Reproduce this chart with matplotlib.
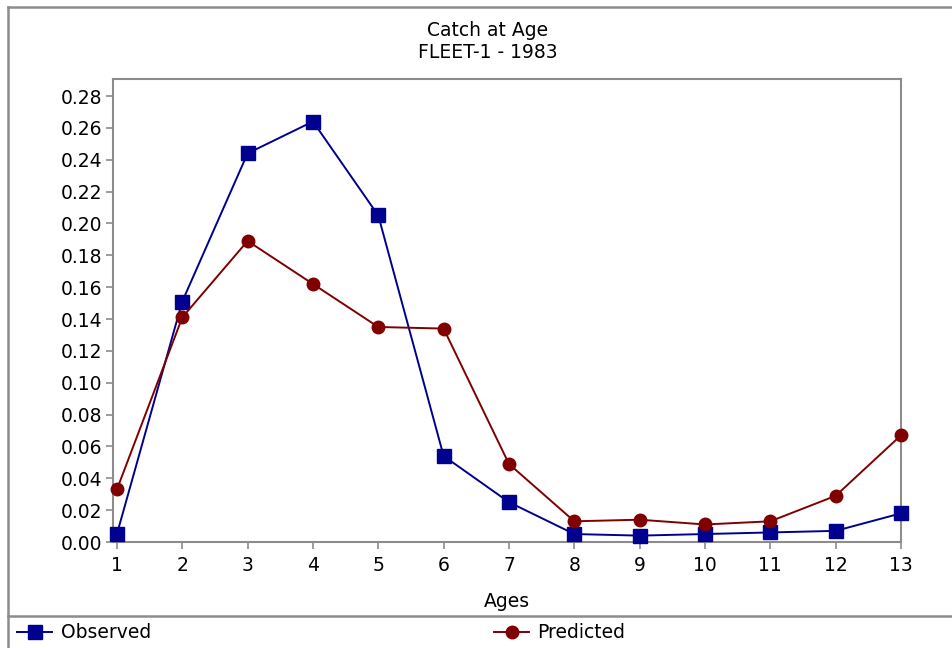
import numpy as np
import matplotlib.pyplot as plt
from matplotlib.lines import Line2D

plt.rcParams['font.family'] = ['DejaVu Sans']

ages = [1, 2, 3, 4, 5, 6, 7, 8, 9, 10, 11, 12, 13]
observed = [0.005, 0.151, 0.244, 0.264, 0.205, 0.054, 0.025, 0.005, 0.004, 0.005, 0.006, 0.007, 0.018]
predicted = [0.033, 0.141, 0.189, 0.162, 0.135, 0.134, 0.049, 0.013, 0.014, 0.011, 0.013, 0.029, 0.067]
yticks = np.arange(0, 0.281, 0.02)

GREY = '#8c8c8c'
OBS_C = '#000090'
PRED_C = '#800000'
FS = 13.5

W, H = 952, 648
fig = plt.figure(figsize=(W / 100, H / 100), dpi=100)

ax = fig.add_axes([113 / W, 1 - 542 / H, (901 - 113) / W, (542 - 79) / H])
ax.plot(ages, observed, '-s', color=OBS_C, lw=1.4, ms=9.5, clip_on=False, zorder=3)
ax.plot(ages, predicted, '-o', color=PRED_C, lw=1.4, ms=9, clip_on=False, zorder=3)

ax.set_xlim(0.94, 13)
ax.set_ylim(0, 0.2907)
ax.set_xticks(ages)
ax.set_yticks(yticks)
ax.set_yticklabels(['%.2f' % v for v in yticks])
ax.tick_params(colors=GREY, labelcolor='black', labelsize=FS, length=5, width=1.2)
ax.tick_params(axis='y', pad=3)
ax.tick_params(axis='x', pad=5)
for s in ax.spines.values():
    s.set_color(GREY)
    s.set_linewidth(1.5)
ax.set_xlabel('Ages', fontsize=FS, labelpad=12)

fig.text(488 / W, 1 - 30 / H, 'Catch at Age', ha='center', va='center', fontsize=FS)
fig.text(488 / W, 1 - 53 / H, 'FLEET-1 - 1983', ha='center', va='center', fontsize=FS)

# outer frame and legend separator
fig.add_artist(Line2D([8 / W, 8 / W], [0, 1 - 7 / H], color=GREY, lw=1.8))
fig.add_artist(Line2D([8 / W, 1], [1 - 7 / H, 1 - 7 / H], color=GREY, lw=1.8))
fig.add_artist(Line2D([8 / W, 1], [1 - 616 / H, 1 - 616 / H], color=GREY, lw=1.8))

# legend entries
ly = 1 - 632 / H
fig.add_artist(Line2D([17 / W, 52 / W], [ly, ly], color=OBS_C, lw=1.4))
fig.add_artist(Line2D([35 / W], [ly], marker='s', color=OBS_C, ms=9.5))
fig.text(61 / W, ly, 'Observed', va='center', fontsize=FS)
fig.add_artist(Line2D([494 / W, 529 / W], [ly, ly], color=PRED_C, lw=1.4))
fig.add_artist(Line2D([512 / W], [ly], marker='o', color=PRED_C, ms=9))
fig.text(537 / W, ly, 'Predicted', va='center', fontsize=FS)

fig.savefig('out.png', dpi=100)
